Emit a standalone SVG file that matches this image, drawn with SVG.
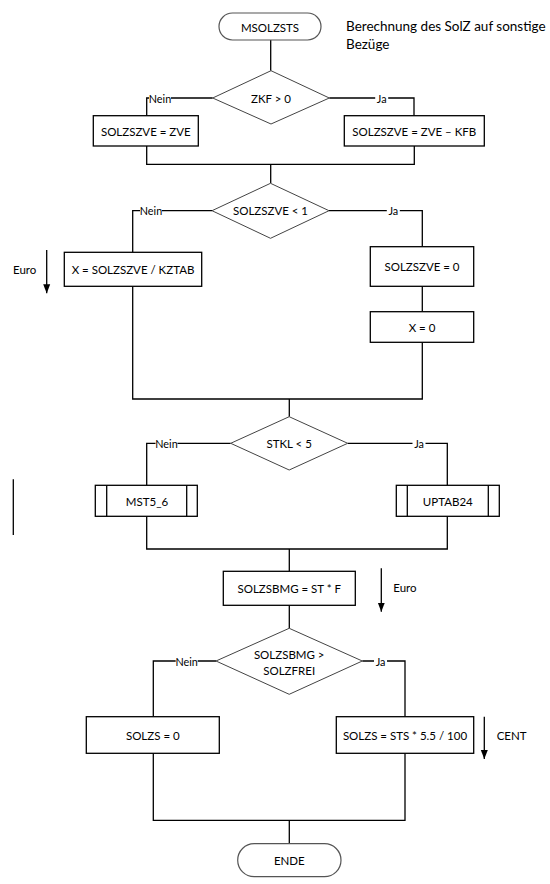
<svg xmlns="http://www.w3.org/2000/svg" width="550" height="884" viewBox="0 0 550 884">
<defs>
<marker id="arr" markerWidth="8" markerHeight="9" refX="4" refY="9" orient="0" markerUnits="userSpaceOnUse" viewBox="0 0 8 9">
<path d="M0.5,0 L7.5,0 L4,9 Z" fill="#000"/>
</marker>
</defs>
<style>
text{font-family:Lato,"Liberation Sans",sans-serif;font-size:11.5px;fill:#000;text-anchor:middle;dominant-baseline:central}
.box{fill:#fff;stroke:#000;stroke-width:1.3}
.dia{fill:#fff;stroke:#444;stroke-width:1}
.term{fill:#fff;stroke:#555;stroke-width:1.2}
.con{fill:none;stroke:#000;stroke-width:1.3}
.lbl{fill:#fff;stroke:none}
.el{font-size:10.8px}
.note{text-anchor:start;font-size:13.5px}
.side{text-anchor:start}
</style>
<rect width="550" height="884" fill="#fff"/>
<g id="connectors">
<path class="con" d="M270.7,40 V70.7"/>
<path class="con" d="M212.7,98 H146.7 V115.7"/>
<path class="con" d="M329.3,98 H414 V115.7"/>
<path class="con" d="M146.7,146 V164.3 H414.3 V146"/>
<path class="con" d="M270.7,164.3 V183.3"/>
<path class="con" d="M212,210.7 H132.7 V252.3"/>
<path class="con" d="M329,210.7 H422.3 V246.7"/>
<path class="con" d="M422.3,286.3 V311.7"/>
<path class="con" d="M132.7,286.3 V399 H422.3 V342.3"/>
<path class="con" d="M289.3,399 V416.7"/>
<path class="con" d="M230.7,443.3 H146.7 V485.3"/>
<path class="con" d="M347.7,443.3 H447.3 V485.3"/>
<path class="con" d="M146.7,516.3 V549 H447.3 V516.3"/>
<path class="con" d="M289.3,549 V571.3"/>
<path class="con" d="M289.3,605.3 V628.3"/>
<path class="con" d="M216,661 H153.3 V716.7"/>
<path class="con" d="M362.3,661 H405 V716.7"/>
<path class="con" d="M153.3,753.3 V820.3 H405 V753.3"/>
<path class="con" d="M289.3,820.3 V843.7"/>
<g id="edge-labels">
<rect class="lbl" x="149" y="91" width="22" height="14"/><text class="el" x="160" y="98">Nein</text>
<rect class="lbl" x="375.2" y="91" width="13" height="14"/><text class="el" x="381.7" y="98">Ja</text>
<rect class="lbl" x="140" y="203.7" width="22" height="14"/><text class="el" x="151" y="210.7">Nein</text>
<rect class="lbl" x="386.8" y="203.7" width="13" height="14"/><text class="el" x="393.3" y="210.7">Ja</text>
<rect class="lbl" x="155.5" y="436.3" width="22" height="14"/><text class="el" x="166.5" y="443.3">Nein</text>
<rect class="lbl" x="412.5" y="436.3" width="13" height="14"/><text class="el" x="419" y="443.3">Ja</text>
<rect class="lbl" x="175.7" y="654" width="22" height="14"/><text class="el" x="186.7" y="661">Nein</text>
<rect class="lbl" x="374" y="654" width="13" height="14"/><text class="el" x="380.5" y="661">Ja</text>
</g>
</g>
<g id="start">
<rect class="term" x="219" y="13" width="102" height="27" rx="13.5" ry="13.5"/>
<text x="270" y="27">MSOLZSTS</text>
</g>
<g id="note">
<text class="note" x="346" y="26">Berechnung des SolZ auf sonstige</text>
<text class="note" x="346" y="44">Bezüge</text>
</g>
<g id="dec-zkf">
<polygon class="dia" points="271,70.7 329.3,98 271,124 212.7,98"/>
<text x="271" y="98">ZKF &gt; 0</text>
</g>
<g id="solzszve-zve">
<rect class="box" x="93.3" y="115.7" width="105" height="30.3"/>
<text x="145.8" y="131">SOLZSZVE = ZVE</text>
</g>
<g id="solzszve-zve-kfb">
<rect class="box" x="344.3" y="115.7" width="140" height="30.3"/>
<text x="414.3" y="131">SOLZSZVE = ZVE – KFB</text>
</g>
<g id="dec-solzszve">
<polygon class="dia" points="270.5,183.3 329,210.7 270.5,238.3 212,210.7"/>
<text x="270.5" y="210.7">SOLZSZVE &lt; 1</text>
</g>
<g id="x-kztab">
<rect class="box" x="64.3" y="252.3" width="137.4" height="34"/>
<text x="133" y="269.3">X = SOLZSZVE / KZTAB</text>
</g>
<g id="euro1">
<line class="con" x1="46.7" y1="250" x2="46.7" y2="293.3" marker-end="url(#arr)"/>
<text class="side" x="13" y="269.3">Euro</text>
</g>
<g id="solzszve-0">
<rect class="box" x="370.3" y="246.7" width="103.4" height="39.6"/>
<text x="422" y="266.5">SOLZSZVE = 0</text>
</g>
<g id="x-0">
<rect class="box" x="370.3" y="311.7" width="103.4" height="30.6"/>
<text x="422" y="327">X = 0</text>
</g>
<g id="dec-stkl">
<polygon class="dia" points="289.2,416.7 347.7,443.3 289.2,470 230.7,443.3"/>
<text x="289.2" y="443.3">STKL &lt; 5</text>
</g>
<g id="mst5-6">
<rect class="box" x="95.3" y="485.3" width="102" height="31"/>
<line class="box" x1="106.7" y1="485.3" x2="106.7" y2="516.3"/>
<line class="box" x1="186.7" y1="485.3" x2="186.7" y2="516.3"/>
<text x="147" y="501">MST5_6</text>
</g>
<g id="uptab24">
<rect class="box" x="396.3" y="485.3" width="103" height="31"/>
<line class="box" x1="407.3" y1="485.3" x2="407.3" y2="516.3"/>
<line class="box" x1="488.3" y1="485.3" x2="488.3" y2="516.3"/>
<text x="447.8" y="501">UPTAB24</text>
</g>
<g id="bar">
<line class="con" x1="13.3" y1="479.3" x2="13.3" y2="535"/>
</g>
<g id="solzsbmg">
<rect class="box" x="223.3" y="571.3" width="132" height="34"/>
<text x="289.3" y="588.8">SOLZSBMG = ST * F</text>
</g>
<g id="euro2">
<line class="con" x1="381.3" y1="568.3" x2="381.3" y2="611.7" marker-end="url(#arr)"/>
<text class="side" x="393.3" y="587.7">Euro</text>
</g>
<g id="dec-solzsbmg">
<polygon class="dia" points="289.2,628.3 362.3,661 289.2,694.3 216,661"/>
<text x="289.2" y="654.3">SOLZSBMG &gt;</text>
<text x="289.2" y="670.7">SOLZFREI</text>
</g>
<g id="solzs-0">
<rect class="box" x="86.3" y="716.7" width="133" height="36.6"/>
<text x="152.8" y="735">SOLZS = 0</text>
</g>
<g id="solzs-sts">
<rect class="box" x="336.3" y="716.7" width="137.4" height="36.6"/>
<text x="405" y="735">SOLZS = STS * 5.5 / 100</text>
</g>
<g id="cent">
<line class="con" x1="484.3" y1="716.7" x2="484.3" y2="759" marker-end="url(#arr)"/>
<text class="side" x="496.7" y="735.7">CENT</text>
</g>
<g id="ende">
<rect class="term" x="237.7" y="843.7" width="103.3" height="33" rx="16.5" ry="16.5"/>
<text x="289.3" y="860.5">ENDE</text>
</g>
</svg>
